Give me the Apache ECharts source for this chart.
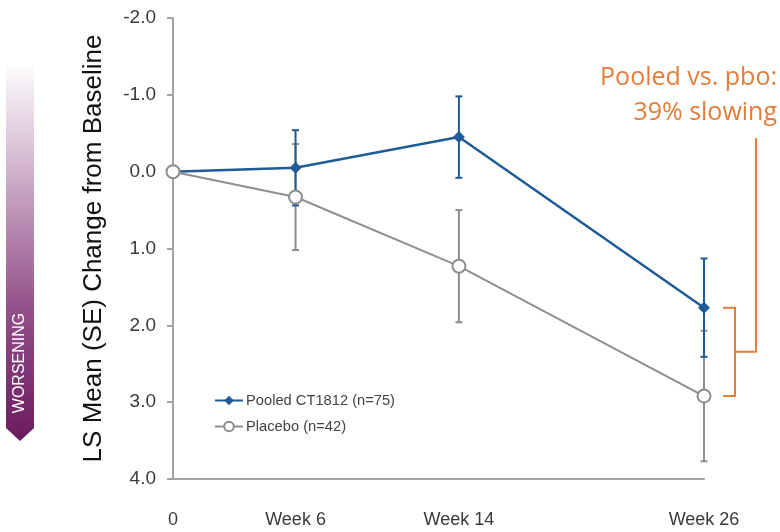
<!DOCTYPE html>
<html>
<head>
<meta charset="utf-8">
<script src="https://cdn.jsdelivr.net/npm/echarts@6/dist/echarts.min.js"></script>
<style>
html,body{margin:0;padding:0;background:#fff;}
#chart{width:780px;height:532px;}
</style>
</head>
<body>
<div id="chart"></div>
<script>
// ---- data ----
const weeks = [0, 6, 14, 26];
const xTickLabels = ['0', 'Week 6', 'Week 14', 'Week 26'];
const pooledName = 'Pooled CT1812 (n=75)';
const placeboName = 'Placebo (n=42)';
const pooledMean = [0, -0.05, -0.45, 1.77];
const pooledSE = [0, 0.49, 0.53, 0.64];
const placeboMean = [0, 0.33, 1.23, 2.92];
const placeboSE = [0, 0.69, 0.73, 0.85];
const yTickValues = [-2, -1, 0, 1, 2, 3, 4];
const annotationLines = ['Pooled vs. pbo:', '39% slowing'];

// ---- styles ----
const BLUE = '#1E5B97';
const GRAY = '#8E8E8E';
const ORANGE = '#E57D3A';
const AXIS = '#A3A3A3';
const FONT = '"Liberation Sans", Arial, sans-serif';
const ANNOT_FONT = '"Open Sans", "Liberation Sans", sans-serif';

const chart = echarts.init(document.getElementById('chart'), null, {renderer: 'canvas'});

function pairs(xs, ys) { return xs.map((x, i) => [x, ys[i]]); }
function errData(means, ses) {
  const out = [];
  weeks.forEach((w, i) => { if (ses[i] > 0) out.push([w, means[i] - ses[i], means[i] + ses[i]]); });
  return out;
}
function errRender(color) {
  return function (params, api) {
    const x = api.value(0);
    const p1 = api.coord([x, api.value(1)]);
    const p2 = api.coord([x, api.value(2)]);
    const w = 3.5;
    const st = {stroke: color, lineWidth: 2};
    return {type: 'group', children: [
      {type: 'line', shape: {x1: p1[0], y1: p1[1], x2: p2[0], y2: p2[1]}, style: st},
      {type: 'line', shape: {x1: p1[0] - w, y1: p1[1], x2: p1[0] + w, y2: p1[1]}, style: st},
      {type: 'line', shape: {x1: p2[0] - w, y1: p2[1], x2: p2[0] + w, y2: p2[1]}, style: st}
    ]};
  };
}

const lastIdx = weeks.length - 1;
const bracketData = [[weeks[lastIdx], pooledMean[lastIdx], placeboMean[lastIdx]]];

const option = {
  animation: false,
  textStyle: {fontFamily: FONT},
  grid: {left: 173, right: 76, top: 18, bottom: 53},
  legend: {
    orient: 'vertical',
    left: 209, top: 388,
    itemWidth: 28, itemHeight: 12, itemGap: 11,
    data: [pooledName, placeboName],
    textStyle: {fontSize: 14.7, color: '#444', fontFamily: FONT, padding: [0, 0, 0, -2]}
  },
  xAxis: {
    type: 'value', min: 0, max: 26,
    axisLine: {show: true, onZero: false, lineStyle: {color: AXIS, width: 2}},
    axisTick: {show: false},
    splitLine: {show: false},
    axisLabel: {
      customValues: weeks,
      formatter: v => xTickLabels[weeks.indexOf(v)],
      margin: 32, fontSize: 18, color: '#3A3A3A', fontFamily: FONT
    }
  },
  yAxis: {
    type: 'value', inverse: true, min: -2, max: 4, interval: 1,
    name: 'LS Mean (SE) Change from Baseline',
    nameLocation: 'middle', nameGap: 66,
    nameTextStyle: {fontSize: 26, color: '#111', fontFamily: FONT},
    axisLine: {show: true, lineStyle: {color: AXIS, width: 2}},
    axisTick: {show: true, length: 6, lineStyle: {color: AXIS, width: 2}, customValues: yTickValues},
    splitLine: {show: false},
    axisLabel: {
      customValues: yTickValues,
      formatter: v => v.toFixed(1),
      margin: 17, fontSize: 19, color: '#3A3A3A', fontFamily: FONT
    }
  },
  graphic: [
    {
      type: 'polygon',
      shape: {points: [[6, 62], [34, 62], [34, 428], [20, 441], [6, 428]]},
      style: {
        fill: new echarts.graphic.LinearGradient(0, 0, 0, 1, [
          {offset: 0, color: '#FFFFFF'},
          {offset: 0.3, color: '#CDAEC9'},
          {offset: 0.65, color: '#93518A'},
          {offset: 1, color: '#6A1A5E'}
        ])
      },
      z: 0
    },
    {
      type: 'text',
      x: 20, y: 363, rotation: Math.PI / 2,
      style: {text: 'WORSENING', fill: '#FFFFFF', font: '16px ' + FONT, align: 'center', verticalAlign: 'middle'},
      z: 1
    },
    {
      type: 'text',
      x: 777, y: 78,
      style: {text: annotationLines[0], fill: ORANGE, font: '25px ' + ANNOT_FONT, align: 'right', verticalAlign: 'middle'},
      z: 5
    },
    {
      type: 'text',
      x: 777, y: 113,
      style: {text: annotationLines[1], fill: ORANGE, font: '25px ' + ANNOT_FONT, align: 'right', verticalAlign: 'middle'},
      z: 5
    }
  ],
  series: [
    {
      type: 'custom', name: 'placeboErr', renderItem: errRender(GRAY),
      data: errData(placeboMean, placeboSE), z: 1, silent: true
    },
    {
      type: 'custom', name: 'pooledErr', renderItem: errRender(BLUE),
      data: errData(pooledMean, pooledSE), z: 2, silent: true
    },
    {
      type: 'line', name: pooledName, data: pairs(weeks, pooledMean),
      symbol: 'diamond', symbolSize: 12, showAllSymbol: true,
      lineStyle: {color: BLUE, width: 2.5},
      itemStyle: {color: BLUE},
      z: 3
    },
    {
      type: 'line', name: placeboName, data: pairs(weeks, placeboMean),
      symbol: 'circle', symbolSize: 13, showAllSymbol: true,
      lineStyle: {color: GRAY, width: 2},
      itemStyle: {color: '#FFFFFF', borderColor: GRAY, borderWidth: 2},
      z: 4
    },
    {
      type: 'custom', name: 'bracket', silent: true, z: 5,
      data: bracketData,
      renderItem: function (params, api) {
        const x = api.value(0);
        const pt = api.coord([x, api.value(1)]);
        const pb = api.coord([x, api.value(2)]);
        const xa = pt[0] + 19, xb = pt[0] + 31, xc = pt[0] + 52;
        const ym = (pt[1] + pb[1]) / 2;
        const st = {stroke: ORANGE, lineWidth: 2, fill: null};
        return {type: 'group', children: [
          {type: 'polyline', shape: {points: [[xa, pt[1]], [xb, pt[1]], [xb, pb[1]], [xa, pb[1]]]}, style: st},
          {type: 'polyline', shape: {points: [[xb, ym], [xc, ym], [xc, 138]]}, style: st}
        ]};
      }
    }
  ]
};
chart.setOption(option);
</script>
</body>
</html>
